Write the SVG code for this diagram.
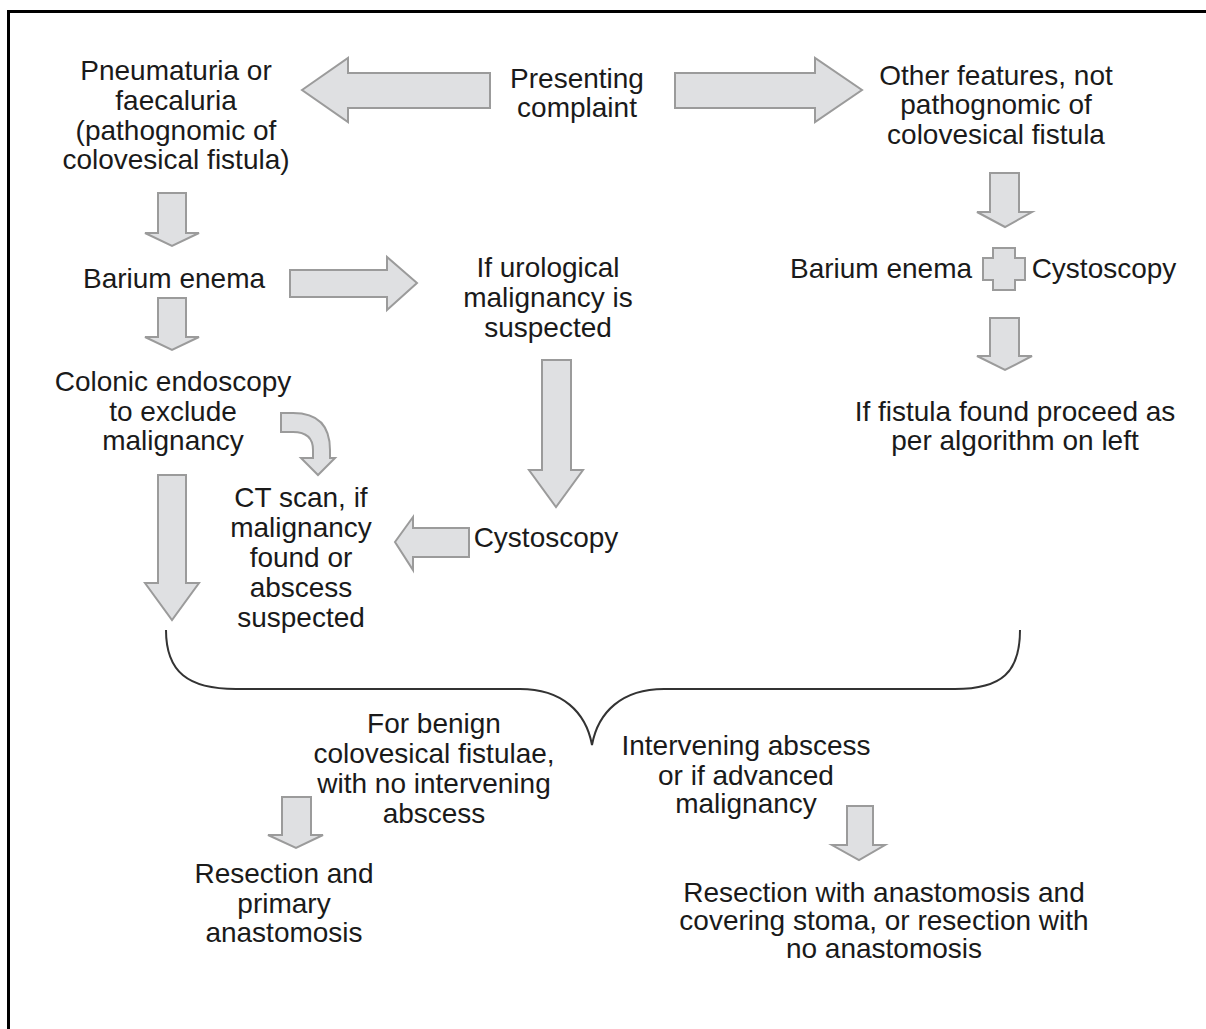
<svg xmlns="http://www.w3.org/2000/svg" width="1206" height="1029" viewBox="0 0 1206 1029">
<style>
.t{font-family:"Liberation Sans",Arial,sans-serif;font-size:28px;fill:#1a1a1a;text-anchor:middle}
.arr{fill:#dfe0e2;stroke:#9b9b9b;stroke-width:2;stroke-linejoin:miter}
.brace{fill:none;stroke:#333;stroke-width:2}
</style>
<rect width="1206" height="1029" fill="#fff"/>
<path d="M8.5,1029 V11.5 H1206" fill="none" stroke="#000" stroke-width="3"/>

<g id="connectors">
<polygon class="arr" points="302,90 348,58 348,73 490,73 490,108 348,108 348,122"/>
<polygon class="arr" points="675,73 815,73 815,58 862,90 815,122 815,108 675,108"/>
<polygon class="arr" points="158,193 186,193 186,233 199,233 172,246 145,233 158,233"/>
<polygon class="arr" points="290,270 387,270 387,257 417,283 387,310 387,297 290,297"/>
<polygon class="arr" points="158,298 186,298 186,337 199,337 172,350 145,337 158,337"/>
<polygon class="arr" points="158,475 186,475 186,583 199,583 172,620 145,583 158,583"/>
<path class="arr" d="M281,413 L293,413 Q330,413 330,450 L330,458 L335,458 L318,475 L301,458 L313,458 L313,450 Q313,432 293,432 L281,432 Z"/>
<polygon class="arr" points="542,360 571,360 571,470 583,470 556,507 529,470 542,470"/>
<polygon class="arr" points="469,528 469,557 413,557 413,570 395,542 413,517 413,528"/>
<polygon class="arr" points="990,173 1019,173 1019,212 1032,212 1005,227 977,212 990,212"/>
<path class="arr" d="M993,248 H1015 V258 H1025 V280 H1015 V290 H993 V280 H983 V258 H993 Z"/>
<polygon class="arr" points="990,318 1019,318 1019,356 1032,356 1005,370 977,356 990,356"/>
<polygon class="arr" points="282,797 311,797 311,835 323,835 296,848 268,835 282,835"/>
<polygon class="arr" points="847,806 873,806 873,845 885,845 859,860 832,845 847,845"/>
<path class="brace" d="M166,630 C166,672 188,689 236,689 L520,689 C562,689 586,712 592,745 C598,712 622,689 664,689 L955,689 C1002,689 1020,672 1020,630"/>
</g>

<g id="n-presenting"><text class="t" x="577" y="88">Presenting</text><text class="t" x="577" y="117">complaint</text></g>
<g id="n-pneumaturia"><text class="t" x="176" y="80">Pneumaturia or</text><text class="t" x="176" y="110">faecaluria</text><text class="t" x="176" y="140">(pathognomic of</text><text class="t" x="176" y="169">colovesical fistula)</text></g>
<g id="n-other"><text class="t" x="996" y="85">Other features, not</text><text class="t" x="996" y="114">pathognomic of</text><text class="t" x="996" y="144">colovesical fistula</text></g>
<g id="n-barium-left"><text class="t" x="174" y="288">Barium enema</text></g>
<g id="n-urological"><text class="t" x="548" y="277">If urological</text><text class="t" x="548" y="307">malignancy is</text><text class="t" x="548" y="337">suspected</text></g>
<g id="n-barium-right"><text class="t" x="881" y="278">Barium enema</text></g>
<g id="n-cysto-right"><text class="t" x="1104" y="278">Cystoscopy</text></g>
<g id="n-fistula-found"><text class="t" x="1015" y="421">If fistula found proceed as</text><text class="t" x="1015" y="450">per algorithm on left</text></g>
<g id="n-colonic"><text class="t" x="173" y="391">Colonic endoscopy</text><text class="t" x="173" y="421">to exclude</text><text class="t" x="173" y="450">malignancy</text></g>
<g id="n-ct"><text class="t" x="301" y="507">CT scan, if</text><text class="t" x="301" y="537">malignancy</text><text class="t" x="301" y="567">found or</text><text class="t" x="301" y="597">abscess</text><text class="t" x="301" y="627">suspected</text></g>
<g id="n-cysto-mid"><text class="t" x="546" y="547">Cystoscopy</text></g>
<g id="n-benign"><text class="t" x="434" y="733">For benign</text><text class="t" x="434" y="763">colovesical fistulae,</text><text class="t" x="434" y="793">with no intervening</text><text class="t" x="434" y="823">abscess</text></g>
<g id="n-intervening"><text class="t" x="746" y="755">Intervening abscess</text><text class="t" x="746" y="785">or if advanced</text><text class="t" x="746" y="813">malignancy</text></g>
<g id="n-resection-primary"><text class="t" x="284" y="883">Resection and</text><text class="t" x="284" y="913">primary</text><text class="t" x="284" y="942">anastomosis</text></g>
<g id="n-resection-stoma"><text class="t" x="884" y="902">Resection with anastomosis and</text><text class="t" x="884" y="930">covering stoma, or resection with</text><text class="t" x="884" y="958">no anastomosis</text></g>
</svg>
